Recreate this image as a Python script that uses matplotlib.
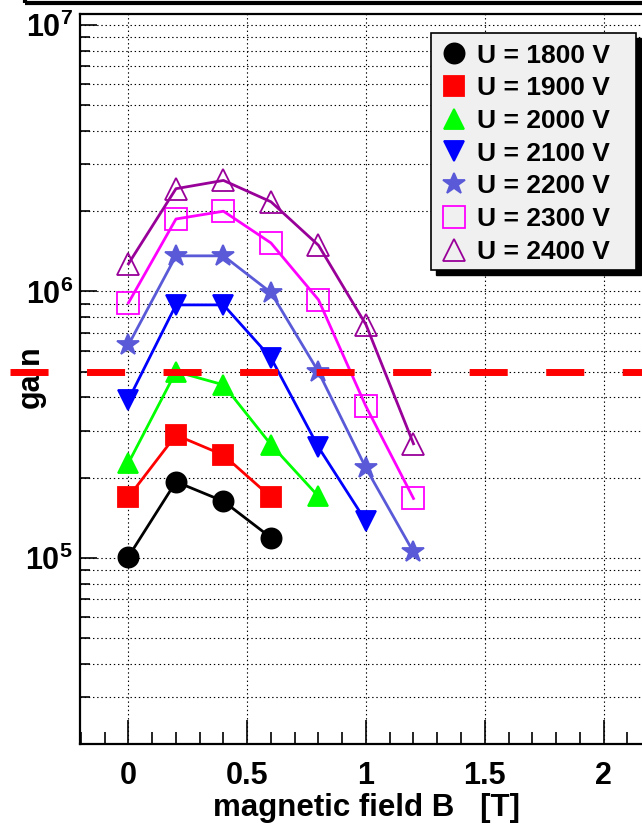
import numpy as np
import matplotlib
matplotlib.use('Agg')
import matplotlib.pyplot as plt
from matplotlib.ticker import MultipleLocator, LogLocator, NullFormatter, FuncFormatter
from matplotlib.patches import Rectangle
from matplotlib.lines import Line2D

plt.rcParams['font.family'] = ['Liberation Sans', 'DejaVu Sans']
plt.rcParams['font.weight'] = 'bold'
plt.rcParams['mathtext.fontset'] = 'custom'
plt.rcParams['mathtext.bf'] = 'Liberation Sans:bold'
plt.rcParams['mathtext.rm'] = 'Liberation Sans:bold'
plt.rcParams['lines.scale_dashes'] = False

# magnetic field points [T]
B = [0, 0.2, 0.4, 0.6, 0.8, 1.0, 1.2]

voltages = [1800, 1900, 2000, 2100, 2200, 2300, 2400]
gain_1800 = [1.01e5, 1.93e5, 1.63e5, 1.19e5]
gain_1900 = [1.69e5, 2.89e5, 2.43e5, 1.69e5]
gain_2000 = [2.27e5, 5.0e5, 4.46e5, 2.66e5, 1.70e5]
gain_2100 = [3.92e5, 8.9e5, 8.9e5, 5.63e5, 2.60e5, 1.37e5]
gain_2200 = [6.3e5, 1.36e6, 1.36e6, 9.9e5, 4.99e5, 2.17e5, 1.05e5]
gain_2300 = [9.06e5, 1.87e6, 2.0e6, 1.52e6, 9.3e5, 3.70e5, 1.67e5]
gain_2400 = [1.27e6, 2.43e6, 2.61e6, 2.17e6, 1.49e6, 7.5e5, 2.68e5]
gain_level = 5e5

gains = [gain_1800, gain_1900, gain_2000, gain_2100, gain_2200, gain_2300, gain_2400]

# style per series: marker, size, face, edge/line colour
styles = [
    ('o', 14.5, 'black', 'black'),
    ('s', 15, '#ff0000', '#ff0000'),
    ('^', 15, '#00ff00', '#00ff00'),
    ('v', 15, '#0000ff', '#0000ff'),
    ('*', 16.5, '#5a5ad8', '#5a5ad8'),
    ('s', 15.5, 'none', '#ff00ff'),
    ('^', 16, 'none', '#990099'),
]

W, H = 642, 831
fig = plt.figure(figsize=(W / 100, H / 100), dpi=100)

def px(x, y):
    return x / W, 1 - y / H

ax = fig.add_axes([80 / W, 1 - 744 / H, 1 - 80 / W, (744 - 14) / H])
ax.set_yscale('log')
ax.set_xlim(-0.204, 2.162)
ax.set_ylim(2e4, 1.1e7)
ax.set_axisbelow(True)

handles = []
for U, g, (m, ms, fc, ec) in zip(voltages, gains, styles):
    ax.plot(B[:len(g)], g, color=ec, lw=2.0, marker=m, ms=ms,
            mfc=fc, mec=ec, mew=1.3, zorder=3)
    handles.append(Line2D([], [], ls='none', marker=m, ms=ms, mfc=fc, mec=ec,
                          mew=1.3, label='U = %d V' % U))

# threshold line
ax.plot([-0.5, 3.0], [gain_level, gain_level], color='#ff0000', lw=5.0,
        dashes=(27.4, 27.7), clip_on=False, zorder=6)

# axes style
for s in ['left', 'bottom', 'top']:
    ax.spines[s].set_linewidth(1.6)
ax.spines['right'].set_visible(False)

ax.xaxis.set_major_locator(MultipleLocator(0.5))
ax.xaxis.set_minor_locator(MultipleLocator(0.1))
ax.xaxis.set_major_formatter(FuncFormatter(lambda v, p: '%g' % v))
ax.yaxis.set_major_locator(LogLocator(base=10))
ax.yaxis.set_minor_locator(LogLocator(base=10, subs=np.arange(2, 10)))
ax.yaxis.set_minor_formatter(NullFormatter())
ax.yaxis.set_major_formatter(FuncFormatter(lambda v, p: r'$\mathbf{10^{%d}}$' % round(np.log10(v))))

ax.tick_params(axis='x', which='major', direction='in', length=17, width=1.2,
               labelsize=22, pad=12.5, top=False)
ax.tick_params(axis='x', which='minor', direction='in', length=8.5, width=1.2, top=False)
ax.tick_params(axis='y', which='major', direction='in', length=12.5, width=1.2,
               labelsize=22, pad=5, right=False)
ax.tick_params(axis='y', which='minor', direction='in', length=7, width=1.2, right=False)

ax.grid(True, which='major', axis='x', color='black', lw=0.8, ls=(0, (1, 2)))
ax.grid(True, which='both', axis='y', color='black', lw=0.8, ls=(0, (1, 2)))

ax.set_xlabel('magnetic field B   [T]', fontsize=22.5, fontweight='bold')
ax.xaxis.set_label_coords((366.5 - 80) / 562, -(808 - 744) / 730)
ax.xaxis.label.set_verticalalignment('center')
ax.set_ylabel('gain', fontsize=22, fontweight='bold')
ax.yaxis.set_label_coords((31 - 80) / 562, (744 - 377) / 730)
ax.yaxis.label.set_verticalalignment('center')

# legend box with ROOT-like shadow
lx0, ly0, lx1, ly1 = 431, 33, 636, 270
sh = 5
x0, y1 = px(lx0 + sh, ly1 + sh)
x1, y0 = px(lx1 + sh, ly0 + sh)
fig.add_artist(Rectangle((x0, y1), x1 - x0, y0 - y1, transform=fig.transFigure,
                         facecolor='black', edgecolor='black', zorder=7))
x0, y1 = px(lx0, ly1)
x1, y0 = px(lx1, ly0)
fig.add_artist(Rectangle((x0, y1), x1 - x0, y0 - y1, transform=fig.transFigure,
                         facecolor='#f0f0f0', edgecolor='black', lw=1.2, zorder=8))

leg = fig.legend(handles=handles, loc='upper left', bbox_to_anchor=px(lx0, ly0),
                 frameon=False, handlelength=0.95, handletextpad=0.4,
                 borderpad=0.4, borderaxespad=0, labelspacing=0.33,
                 prop={'weight': 'bold', 'size': 19})
leg.set_zorder(9)

# title box edge at the top of the canvas
tx, ty = px(25, 2.5)
fig.add_artist(Rectangle((tx, ty), 1.2, 0.1, transform=fig.transFigure,
                         fill=False, edgecolor='black', lw=3, clip_on=False))

fig.savefig('out.png', dpi=100)
